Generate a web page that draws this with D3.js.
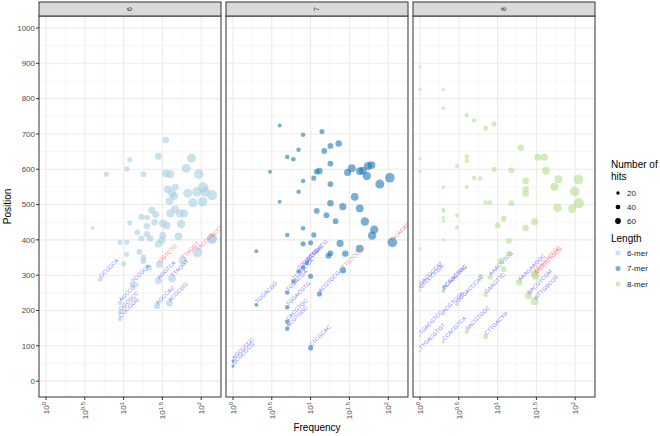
<!DOCTYPE html>
<html>
<head>
<meta charset="utf-8">
<style>
  body { margin: 0; background: #fff; }
  text { font-family: "Liberation Sans", Arial, sans-serif; }
</style>
</head>
<body>
<svg width="660" height="436"></svg>
<script src="https://d3js.org/d3.v7.min.js"></script>
<script>

// one row per k-mer: [frequency, position, hits, label, highlighted]
var six = [
  [35,683,74],[12,627,47],[28,637,90],[75,631,145],[6,586,47],[11,601,47],[18,586,60],
  [35,588,107],[40,586,107],[64,603,145],[93,586,167],[37,543,107],[46,549,90],[42,532,107],
  [45,524,107],[39,510,107],[67,532,145],[88,536,167],[106,549,190],[112,536,167],[138,527,190],
  [104,508,167],[78,505,145],[23,484,90],[26,472,90],[17,465,60],[20,463,60],[12,448,47],
  [25,450,74],[32,447,107],[36,441,107],[40,475,125],[46,487,107],[53,475,107],[60,475,125],
  [55,445,125],[20,439,74],[4,434,27],[15,421,60],[17,404,60],[20,416,74],[22,404,74],
  [32,413,90],[31,399,90],[28,388,90],[51,410,107],[138,403,167],[9,393,47],[11,393,47],
  [11,359,47],[16,366,60],[18,350,60],[18,340,60],[10,332,47],[21,322,74],
  [29,331,90,"GGTCTG",1],[58,342,125,"TTAGGT",1],[89,365,167,"TACCGT",1],[138,403,167,"ACCGTG",1],
  [5,288,36,"GCGGCA"],[28,284,90,"AGGTCA"],[42,291,107,"TTAGGT"],[13,274,60,"TCCGCA"],
  [9,221,36,"AGCCGG"],[9,195,36,"GGCGCC"],[9,176,36,"CGCGGG"],[27,213,74,"AGCCAC"],[39,221,90,"ACGCGG"]
];

var seven = [
  [4,724,27],[8,698,36],[14,707,47],[7,655,36],[15,652,60],[18,666,60],[23,673,74],[5,635,36],
  [6,628,36],[18,616,60],[3,593,27],[12,593,60],[13,595,74],[30,591,90],[34,603,107],[43,595,107],
  [47,596,107],[55,609,125],[61,612,107],[53,581,125],[8,567,36],[11,575,47],[18,558,60],
  [78,558,145],[105,576,167],[7,536,36],[4,508,27],[37,522,107],[18,504,74],[26,494,90],
  [12,482,60],[16,470,60],[43,489,107],[21,453,60],[50,452,125],[8,433,36],[5,414,36],
  [11,414,47],[66,429,125],[62,412,125],[8,389,47],[10,392,47],[24,390,90],[43,375,107],
  [113,393,167,"GCACAGC",1],[2,368,27],[17,355,60],[18,362,60],[28,361,74],
  [26,314,74,"TTGTCCAC",1],[9,335,36,"GTCGACG"],[8,322,36,"CGTCGAC"],[7,311,36,"TCGACTG"],
  [6,283,36,"TCAGCCA"],[10,297,47],[5,251,36,"TCGACGA"],[13,247,47,"ACGTGCG"],
  [2,216,27,"TGGACGG"],[5,209,36,"TGGACGTG"],[5,168,36,"CACGTGC"],[5,148,36,"ACGTGGC"],
  [10,94,47,"CTCGCAC"],[1,57,15,"AGCGCGC"],[1,42,15,"GCGCGCG"]
];

var eight = [
  [1,890,15],[1,826,15],[2,825,20],[2,773,27],[4,753,36],[5,739,36],[7,716,47],[9,728,47],
  [20,661,74],[33,634,90],[40,634,90],[1,629,15],[4,637,36],[4,624,36],[3,609,27],[1,594,15],
  [9,600,47],[15,597,60],[42,596,107],[5,575,36],[6,574,36],[23,567,74],[61,572,107],
  [110,571,167],[2,549,20],[4,550,27],[23,543,74],[23,531,74],[54,550,125],[99,537,167],
  [7,506,36],[8,506,36],[15,504,60],[111,504,190],[59,491,125],[91,488,125],[2,487,20],
  [2,481,20],[2,463,20],[2,454,20],[3,469,27],[12,460,60],[30,451,90],[3,436,27],[10,441,60],
  [23,434,74],[2,400,20],[14,397,60],[1,374,15],[14,361,60],[11,341,60],[12,317,60],
  [8,295,47,"AAACGTCG"],[6,297,36],[19,279,74,"AAAGAAGGC"],[30,303,107,"AAAGGCTGC",1],
  [31,298,107,"AAGGCTGCG",1],[2,257,20,"ACGACGAC"],[1,267,15,"GACGCCAT"],[1,257,15,"GTCCCCGA"],
  [7,244,36,"GAAGTTC"],[25,242,90,"BACGTCGM"],[30,226,107,"WTTGSCGS"],[2,255,27,"ECAGGTCG"],
  [3,218,27,"GGGACCCAC"],[2,189,20,"ACGTCGA"],[1,128,15,"TGACGTCG"],[1,85,15,"TTGACGTGT"],
  [2,111,20,"CCACGTCA"],[4,140,36,"SACGTGGC"],[7,126,47,"CTTGACYR"]
];

var facets = ["6", "7", "8"];
var lengths = ["6-mer", "7-mer", "8-mer"];
var colors = ["#a6cee3", "#1f78b4", "#b2df8a"];
var series = [six, seven, eight];
var yTicks = [0, 100, 200, 300, 400, 500, 600, 700, 800, 900, 1000];
var xExps = [0, 0.5, 1, 1.5, 2];
var hitBreaks = [20, 40, 60];

var svg = d3.select("svg");
var panelW = 182, gap = 5, left0 = 39, pTop = 16, pBottom = 397;

var y = d3.scaleLinear().domain([-45, 1034]).range([pBottom, pTop]);
var r = d3.scaleSqrt().domain([0, 60]).range([0, 2.9]);

facets.forEach(function(f, i) {
  var x0 = left0 + i * (panelW + gap);
  var x = d3.scaleLog().domain([Math.pow(10, -0.09), Math.pow(10, 2.255)]).range([x0, x0 + panelW]);
  var g = svg.append("g");
  var clipId = "clip" + i;
  svg.append("clipPath").attr("id", clipId).append("rect")
    .attr("x", x0).attr("y", pTop).attr("width", panelW).attr("height", pBottom - pTop);

  g.append("rect").attr("x", x0).attr("y", pTop).attr("width", panelW).attr("height", pBottom - pTop)
    .attr("fill", "#fff");

  // minor grid
  var minorY = d3.range(-50, 1050, 100).filter(function(v) { return y(v) > pTop && y(v) < pBottom; });
  g.selectAll(".my").data(minorY).enter().append("line")
    .attr("x1", x0).attr("x2", x0 + panelW).attr("y1", y).attr("y2", y)
    .attr("stroke", "#f2f2f2").attr("stroke-width", 0.6);
  var minorX = [0.25, 0.75, 1.25, 1.75, 2.25];
  g.selectAll(".mx").data(minorX).enter().append("line")
    .attr("y1", pTop).attr("y2", pBottom)
    .attr("x1", function(e) { return x(Math.pow(10, e)); }).attr("x2", function(e) { return x(Math.pow(10, e)); })
    .attr("stroke", "#f2f2f2").attr("stroke-width", 0.6);
  // major grid
  g.selectAll(".gy").data(yTicks).enter().append("line")
    .attr("x1", x0).attr("x2", x0 + panelW).attr("y1", y).attr("y2", y)
    .attr("stroke", "#ebebeb").attr("stroke-width", 1.1);
  g.selectAll(".gx").data(xExps).enter().append("line")
    .attr("y1", pTop).attr("y2", pBottom)
    .attr("x1", function(e) { return x(Math.pow(10, e)); }).attr("x2", function(e) { return x(Math.pow(10, e)); })
    .attr("stroke", "#ebebeb").attr("stroke-width", 1.1);

  var data = series[i];
  var pts = g.append("g").attr("clip-path", "url(#" + clipId + ")");
  pts.selectAll("circle").data(data).enter().append("circle")
    .attr("cx", function(d) { return x(d[0]); })
    .attr("cy", function(d) { return y(d[1]); })
    .attr("r", function(d) { return r(d[2]); })
    .attr("fill", colors[i]).attr("fill-opacity", 0.6);

  pts.selectAll("text").data(data.filter(function(d) { return d[3]; })).enter().append("text")
    .attr("transform", function(d) { return "translate(" + (x(d[0]) + 1) + "," + (y(d[1]) - 1) + ") rotate(-45)"; })
    .attr("font-size", 5.6)
    .attr("fill", function(d) { return d[4] ? "#ff7070" : "#7070ff"; })
    .attr("fill-opacity", 0.9)
    .text(function(d) { return d[3]; });

  g.append("rect").attr("x", x0).attr("y", pTop).attr("width", panelW).attr("height", pBottom - pTop)
    .attr("fill", "none").attr("stroke", "#333").attr("stroke-width", 1);

  // strip
  g.append("rect").attr("x", x0).attr("y", 2).attr("width", panelW).attr("height", pTop - 2)
    .attr("fill", "#d9d9d9").attr("stroke", "#333").attr("stroke-width", 1);
  g.append("text").attr("transform", "translate(" + (x0 + panelW / 2) + "," + (pTop - 7) + ") rotate(-90)")
    .attr("text-anchor", "middle").attr("dy", "0.35em").attr("font-size", 7).attr("fill", "#1a1a1a")
    .text(f);

  // x axis
  xExps.forEach(function(e) {
    var px = x(Math.pow(10, e));
    g.append("line").attr("x1", px).attr("x2", px).attr("y1", pBottom).attr("y2", pBottom + 3)
      .attr("stroke", "#333").attr("stroke-width", 1);
    var t = g.append("text").attr("transform", "translate(" + px + "," + (pBottom + 5) + ") rotate(-90)")
      .attr("text-anchor", "end").attr("dy", "0.35em").attr("font-size", 8).attr("fill", "#4d4d4d");
    t.append("tspan").text("10");
    t.append("tspan").attr("dy", "-0.45em").attr("font-size", 6).text(e);
  });
});

// y axis
var ya = svg.append("g");
yTicks.forEach(function(v) {
  ya.append("line").attr("x1", left0 - 3).attr("x2", left0).attr("y1", y(v)).attr("y2", y(v))
    .attr("stroke", "#333").attr("stroke-width", 1);
  ya.append("text").attr("x", left0 - 4).attr("y", y(v)).attr("dy", "0.35em")
    .attr("text-anchor", "end").attr("font-size", 8).attr("fill", "#4d4d4d").text(v);
});

svg.append("text").attr("transform", "translate(11," + ((pTop + pBottom) / 2) + ") rotate(-90)")
  .attr("text-anchor", "middle").attr("font-size", 10).attr("fill", "#000").text("Position");
svg.append("text").attr("x", left0 + (3 * panelW + 2 * gap) / 2).attr("y", 431)
  .attr("text-anchor", "middle").attr("font-size", 10).attr("fill", "#000").text("Frequency");

// legends
var lg = svg.append("g");
lg.append("text").attr("x", 611).attr("y", 168).attr("font-size", 10).text("Number of");
lg.append("text").attr("x", 611).attr("y", 180).attr("font-size", 10).text("hits");
hitBreaks.forEach(function(b, k) {
  var cy = 193 + k * 14;
  lg.append("circle").attr("cx", 618).attr("cy", cy).attr("r", r(b)).attr("fill", "#000");
  lg.append("text").attr("x", 627).attr("y", cy).attr("dy", "0.35em").attr("font-size", 8).attr("fill", "#1a1a1a").text(b);
});
lg.append("text").attr("x", 611).attr("y", 242).attr("font-size", 10).text("Length");
lengths.forEach(function(l, k) {
  var cy = 253 + k * 15.5;
  lg.append("circle").attr("cx", 618).attr("cy", cy).attr("r", 2.5).attr("fill", colors[k]).attr("fill-opacity", 0.6);
  lg.append("text").attr("x", 627).attr("y", cy).attr("dy", "0.35em").attr("font-size", 8).attr("fill", "#1a1a1a").text(l);
});

</script>
</body>
</html>
